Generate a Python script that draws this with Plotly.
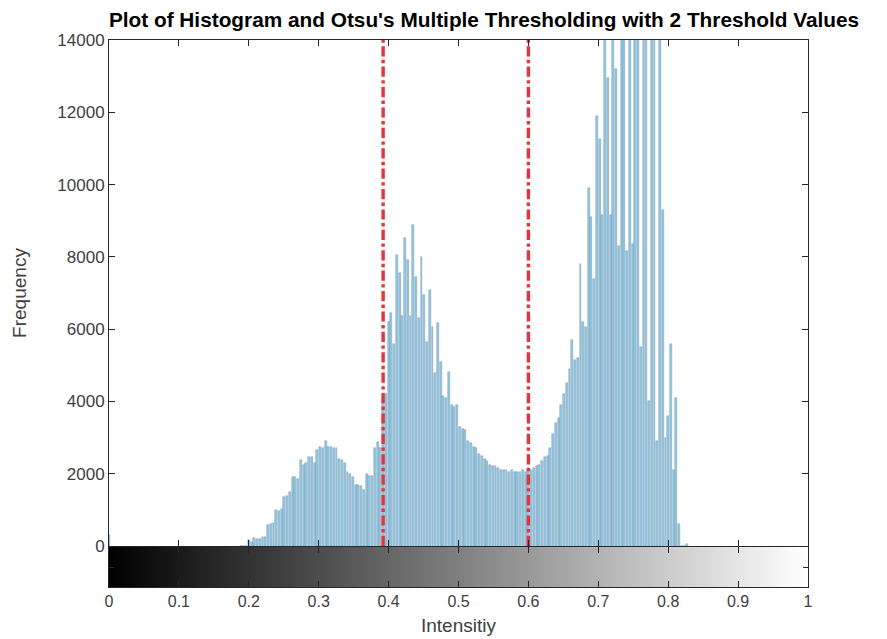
import numpy as np
import plotly.graph_objects as go

# ---------------- data ----------------
n_levels = 256                      # intensity levels of the histogram
first_bin = 48                      # level index of the first entry in `counts`
counts = [
    0, 0, 0, 170, 120, 220, 180, 200, 250, 260,            # 48-57
    580, 600, 650, 1000, 980, 1020, 1360, 1380, 1500, 1900,  # 58-67
    1900, 1850, 2380, 2240, 2300, 2450, 2450, 2300, 2660, 2750,  # 68-77
    2700, 2900, 2730, 2750, 2700, 2700, 2400, 2370, 2300, 2050,  # 78-87
    2000, 1900, 1700, 1690, 1650, 1550, 2000, 1950, 1950, 2700,  # 88-97
    2880, 2700, 4100, 4200, 6200, 6450, 5600, 8050, 7550, 6350,  # 98-107
    8520, 7900, 6350, 8880, 7450, 6300, 8000, 6950, 5650, 7080,  # 108-117
    6060, 4800, 6170, 5090, 4150, 4100, 4820, 3900, 3850, 3900,  # 118-127
    3300, 3250, 3200, 2900, 2850, 2750, 2700, 2550, 2500, 2400,  # 128-137
    2350, 2250, 2200, 2200, 2150, 2100, 2100, 2100, 2050, 2100,  # 138-147
    2050, 2050, 2050, 2100, 2050, 2100, 2100, 2150, 2200, 2250,  # 148-157
    2350, 2450, 2500, 2700, 3100, 3400, 3550, 3900, 4200, 4500,  # 158-167
    4900, 5700, 5150, 5200, 7800, 6200, 6050, 9900, 9100, 7400,  # 168-177
    11900, 11250, 9150, 15500, 12950, 9150, 16000, 13200, 8300, 15500,  # 178-187
    14500, 8150, 16500, 8350, 15000, 17000, 5500, 15500, 16000, 4000,  # 188-197
    14800, 15500, 2900, 16000, 9300, 3000, 3600, 5600, 2100, 4100,  # 198-207
    600, 0, 0, 60,                                           # 208-211
]
extra_bins = [0]                    # isolated non-zero levels outside the main block
extra_counts = [300]

thresholds = [100 / 255, 153 / 255]  # Otsu thresholds (normalised)

x_ticks = [0, 0.1, 0.2, 0.3, 0.4, 0.5, 0.6, 0.7, 0.8, 0.9, 1]
x_ticktext = ["0", "0.1", "0.2", "0.3", "0.4", "0.5", "0.6", "0.7", "0.8", "0.9", "1"]
y_ticks = [0, 2000, 4000, 6000, 8000, 10000, 12000, 14000]
y_ticktext = ["0", "2000", "4000", "6000", "8000", "10000", "12000", "14000"]

title_text = "Plot of Histogram and Otsu's Multiple Thresholding with 2 Threshold Values"
x_title = "Intensitiy"
y_title = "Frequency"

# ---------------- build ----------------
levels = [(first_bin + i) / (n_levels - 1) for i in range(len(counts))]
levels += [b / (n_levels - 1) for b in extra_bins]
values = counts + extra_counts

gray_levels = [i / (n_levels - 1) for i in range(n_levels)]

W, H = 887, 639
ml, mr, mt, mb = 109, 79, 40, 52
plot_h = H - mt - mb
main_bottom = (587 - 546) / plot_h
cbar_top = (587 - 547) / plot_h

FONT = "Liberation Sans, Arial, sans-serif"
AX = "#262626"
TXT = "#404040"

fig = go.Figure()

# grayscale strip
fig.add_trace(go.Heatmap(
    x=gray_levels, y=[0, 1], z=[gray_levels, gray_levels],
    colorscale=[[0, "black"], [1, "white"]], zmin=0, zmax=1,
    showscale=False, zsmooth="best", xaxis="x", yaxis="y2", hoverinfo="skip",
))

# histogram
fig.add_trace(go.Bar(
    x=levels, y=values, width=0.7 / (n_levels - 1),
    marker=dict(color="rgb(146,200,227)", line=dict(color="rgb(120,156,180)", width=0.5)),
    xaxis="x2", yaxis="y", showlegend=False,
))

# threshold lines
for t in thresholds:
    fig.add_trace(go.Scatter(
        x=[t, t], y=[0, y_ticks[-1]], mode="lines",
        line=dict(color="rgb(228,52,62)", width=3.4, dash="dashdot"),
        xaxis="x2", yaxis="y", showlegend=False, hoverinfo="skip",
    ))

common_x = dict(range=[0, 1], showgrid=False, zeroline=False, showline=True,
                linecolor=AX, linewidth=1, mirror="ticks", ticks="inside",
                ticklen=6, tickcolor=AX, tickvals=x_ticks, automargin=False)

fig.update_layout(
    width=W, height=H,
    margin=dict(l=ml, r=mr, t=mt, b=mb, pad=0),
    paper_bgcolor="white", plot_bgcolor="white",
    font=dict(family=FONT, size=17, color=TXT),
    showlegend=False,
    bargap=0,
    title=dict(text="<b>" + title_text + "</b>", x=484 / W, xanchor="center",
               y=1 - 20 / H, yanchor="middle", automargin=False,
               font=dict(family=FONT, size=20.8, color="black")),
    xaxis=dict(**common_x, domain=[0, 1], anchor="y2", ticktext=x_ticktext,
               showticklabels=True, tickfont=dict(size=16, color=TXT),
               title=dict(text=x_title, font=dict(size=19, color=TXT), standoff=9)),
    xaxis2=dict(**common_x, domain=[0, 1], anchor="y", matches="x",
                showticklabels=False),
    yaxis=dict(domain=[main_bottom, 1], range=[0, y_ticks[-1]], tickvals=y_ticks,
               ticktext=y_ticktext, automargin=False,
               showgrid=False, zeroline=False, showline=True, linecolor=AX,
               linewidth=1, mirror="ticks", ticks="inside", ticklen=6, tickcolor=AX,
               tickfont=dict(size=17, color=TXT), anchor="x2",
               title=dict(text=y_title, font=dict(size=19, color=TXT), standoff=25)),
    yaxis2=dict(domain=[0, cbar_top], range=[0, 1], tickvals=[0.5], automargin=False,
                showticklabels=False, showgrid=False, zeroline=False, showline=True,
                linecolor=AX, linewidth=1, mirror="ticks", ticks="inside",
                ticklen=5, tickcolor=AX, anchor="x"),
)

fig.write_html("out.html")
